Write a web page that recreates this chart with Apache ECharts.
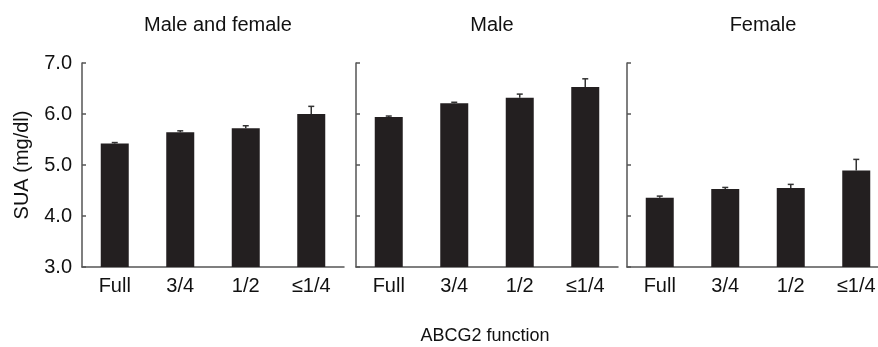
<!DOCTYPE html>
<html>
<head>
<meta charset="utf-8">
<script src="https://cdn.jsdelivr.net/npm/echarts@6/dist/echarts.min.js"></script>
<style>
html,body{margin:0;padding:0;background:#fff;}
#chart{width:878px;height:347px;}
</style>
</head>
<body>
<div id="chart"></div>
<script>
// ---- data ----
var categories = ['Full', '3/4', '1/2', '\u22641/4'];
var panelTitles = ['Male and female', 'Male', 'Female'];
var meanAll = [5.42, 5.64, 5.72, 6.00];
var seAll = [0.02, 0.03, 0.05, 0.15];
var meanMale = [5.94, 6.21, 6.32, 6.53];
var seMale = [0.02, 0.02, 0.07, 0.16];
var meanFemale = [4.36, 4.53, 4.55, 4.89];
var seFemale = [0.03, 0.03, 0.07, 0.22];
var yTicks = [3.0, 4.0, 5.0, 6.0, 7.0];
var yName = 'SUA (mg/dl)';
var xName = 'ABCG2 function';

var means = [meanAll, meanMale, meanFemale];
var ses = [seAll, seMale, seFemale];

var FONT = '"Liberation Sans", Arial, Helvetica, sans-serif';
var TXT = '#111';
var AXIS = '#555';
var BAR = '#231f20';

var lefts = [82, 356, 627];
var W = 262, TOP = 63, H = 204;

var grids = [], xAxes = [], yAxes = [], series = [], titles = [];
for (var i = 0; i < 3; i++) {
  grids.push({left: lefts[i], top: TOP, width: W, height: H, containLabel: false, outerBoundsMode: 'none'});
  xAxes.push({
    type: 'category', gridIndex: i, data: categories,
    axisLine: {show: true, lineStyle: {color: AXIS, width: 1.5}},
    axisTick: {show: false},
    axisLabel: {color: TXT, fontSize: 20, fontFamily: FONT, margin: 9}
  });
  yAxes.push({
    type: 'value', gridIndex: i, min: yTicks[0], max: yTicks[yTicks.length - 1], interval: 1,
    axisLine: {show: true, lineStyle: {color: AXIS, width: 1.5}},
    axisTick: {show: true, inside: true, length: 4, lineStyle: {color: AXIS, width: 1.5}},
    splitLine: {show: false},
    axisLabel: {show: i === 0, color: TXT, fontSize: 20, fontFamily: FONT, margin: 10,
      formatter: function (v) { return v.toFixed(1); }},
    name: i === 0 ? yName : '', nameLocation: 'middle', nameGap: 50, nameRotate: 90,
    nameTextStyle: {color: TXT, fontSize: 20, fontFamily: FONT}
  });
  series.push({
    type: 'bar', xAxisIndex: i, yAxisIndex: i, data: means[i], barWidth: 28,
    itemStyle: {color: BAR}, z: 2
  });
  (function (idx) {
    var errData = means[idx].map(function (m, k) { return [k, m, m + ses[idx][k]]; });
    series.push({
      type: 'custom', xAxisIndex: idx, yAxisIndex: idx, data: errData, z: 1,
      renderItem: function (params, api) {
        var x = api.value(0);
        var p0 = api.coord([x, api.value(1)]);
        var p1 = api.coord([x, api.value(2)]);
        var cw = 3;
        return {
          type: 'group',
          children: [
            {type: 'line', shape: {x1: p0[0], y1: p0[1], x2: p1[0], y2: p1[1]},
              style: {stroke: '#333', lineWidth: 1.5}},
            {type: 'line', shape: {x1: p1[0] - cw, y1: p1[1], x2: p1[0] + cw, y2: p1[1]},
              style: {stroke: '#333', lineWidth: 1.5}}
          ]
        };
      }
    });
  })(i);
  titles.push({
    text: panelTitles[i], left: lefts[i] + W / 2, top: 10, textAlign: 'center',
    textStyle: {color: TXT, fontSize: 20, fontWeight: 'normal', fontFamily: FONT}
  });
}
titles.push({
  text: xName, left: 480, top: 322, textAlign: 'center',
  textStyle: {color: TXT, fontSize: 18, fontWeight: 'normal', fontFamily: FONT}
});

var chart = echarts.init(document.getElementById('chart'), null, {renderer: 'canvas'});
chart.setOption({
  animation: false,
  backgroundColor: '#fff',
  title: titles,
  grid: grids,
  xAxis: xAxes,
  yAxis: yAxes,
  series: series
});
</script>
</body>
</html>
